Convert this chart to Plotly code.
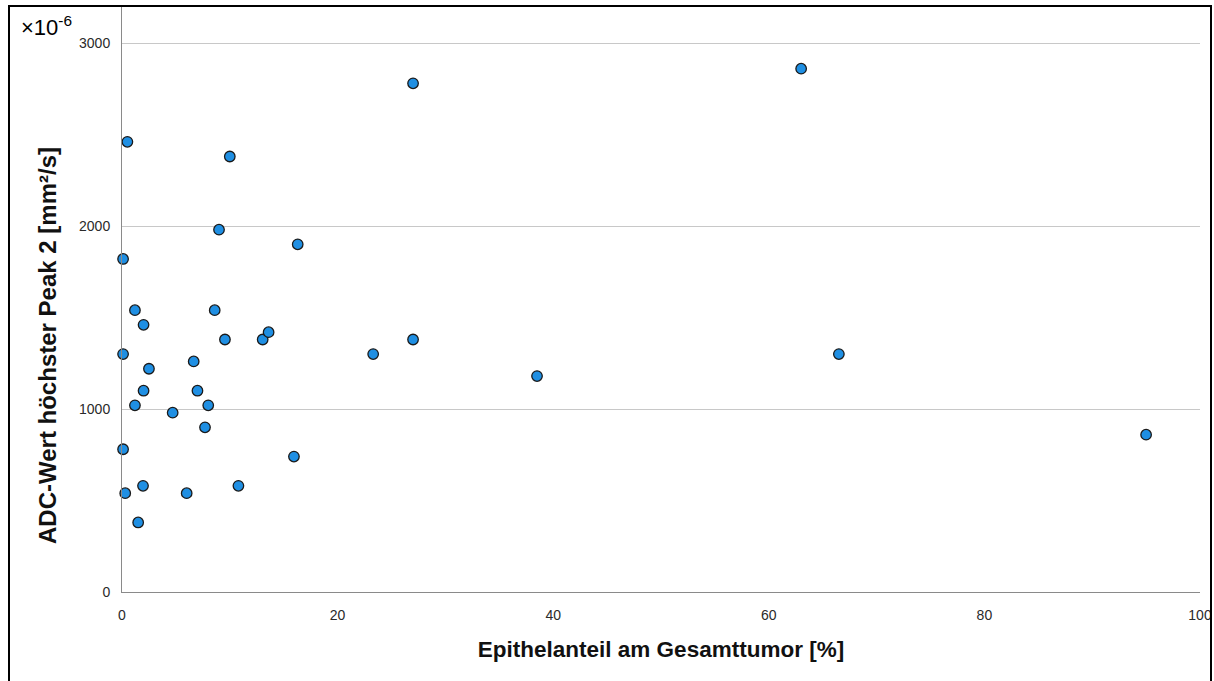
import plotly.graph_objects as go

# Epithelial fraction of the whole tumour (%) and ADC value of the 2nd highest peak (x10^-6 mm²/s)
epithel_pct = [0.1, 1.2, 2.0, 0.1, 2.5, 6.65, 2.0, 7.0, 1.2, 8.0, 4.7, 7.7, 0.1, 15.95,
               0.3, 1.95, 6.0, 10.8, 1.5, 8.6, 9.55, 13.05, 13.6, 16.3, 9.0, 0.5, 10.0,
               27.0, 63.0, 27.0, 23.3, 38.5, 66.5, 95.0]
adc_peak2 = [1820, 1540, 1460, 1300, 1220, 1260, 1100, 1100, 1020, 1020, 980, 900, 780, 740,
             540, 580, 540, 580, 380, 1540, 1380, 1380, 1420, 1900, 1980, 2460, 2380,
             2780, 2860, 1380, 1300, 1180, 1300, 860]

x_ticks = [0, 20, 40, 60, 80, 100]
y_ticks = [0, 1000, 2000, 3000]

W, H = 1214, 681
L, R, T, B = 122, 14, 7, 89
plot_w = W - L - R
plot_h = H - T - B


def px_x(px):
    return (px - L) / plot_w


def px_y(py):
    return (H - B - py) / plot_h


fig = go.Figure()
fig.add_trace(go.Scatter(
    x=epithel_pct, y=adc_peak2, mode="markers", cliponaxis=False,
    marker=dict(size=10.5, color="#1f8fe3", line=dict(color="#1a1a1a", width=1.3)),
    hoverinfo="x+y", showlegend=False,
))

tick_font = dict(family="Liberation Sans, Arial, sans-serif", size=14, color="#2a2a2a")

fig.update_xaxes(
    range=[0, 100], tickvals=x_ticks, ticks="", showgrid=False, zeroline=False,
    showline=True, linecolor="#8a8a8a", linewidth=1, tickfont=tick_font,
    ticklabelstandoff=10,
    title=dict(text="Epithelanteil am Gesamttumor [%]", standoff=19,
               font=dict(family="Liberation Sans, Arial, sans-serif", size=22.5,
                         color="#111111", weight="bold")),
)
fig.update_yaxes(
    range=[0, 3197], tickvals=y_ticks, ticks="", showgrid=True, gridcolor="#c8c8c8",
    gridwidth=1, zeroline=False, showline=True, linecolor="#8a8a8a", linewidth=1,
    tickfont=tick_font, ticklabelstandoff=8,
)

# y-axis title
fig.add_annotation(
    text="ADC-Wert höchster Peak 2 [mm²/s]", xref="paper", yref="paper",
    x=px_x(48), y=px_y(346), xanchor="center", yanchor="middle", textangle=-90,
    showarrow=False,
    font=dict(family="Liberation Sans, Arial, sans-serif", size=24, color="#111111", weight="bold"),
)

# scale factor label in the upper left corner
fig.add_annotation(
    text="×10<sup>-6</sup>", xref="paper", yref="paper",
    x=px_x(19), y=px_y(42), xanchor="left", yanchor="bottom",
    showarrow=False, font=dict(family="Liberation Sans, Arial, sans-serif", size=22, color="#000000"),
)

# outer frame
fig.add_shape(
    type="rect", xref="paper", yref="paper", layer="above",
    x0=px_x(9), x1=px_x(1211), y0=px_y(700), y1=px_y(6),
    line=dict(color="#000000", width=2), fillcolor="rgba(0,0,0,0)",
)

fig.update_layout(
    width=W, height=H, autosize=False,
    margin=dict(l=L, r=R, t=T, b=B, autoexpand=False),
    paper_bgcolor="white", plot_bgcolor="white",
)

fig.write_html("out.html")
